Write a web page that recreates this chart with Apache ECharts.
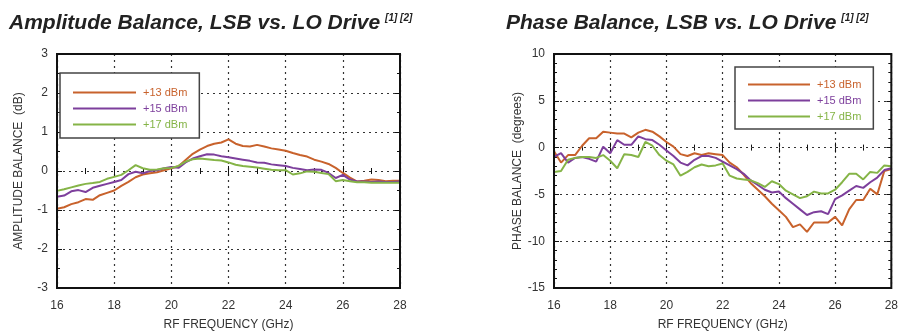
<!DOCTYPE html>
<html>
<head>
<meta charset="utf-8">
<script src="https://cdn.jsdelivr.net/npm/echarts@6/dist/echarts.min.js"></script>
<style>
html,body{margin:0;padding:0;background:#fff;}
#c{width:901px;height:336px;}
</style>
</head>
<body>
<div id="c"></div>
<script>
// Frequency (GHz)
const freq = [16,16.25,16.5,16.75,17,17.25,17.5,17.75,18,18.25,18.5,18.75,19,19.25,19.5,19.75,20,20.25,20.5,20.75,21,21.25,21.5,21.75,22,22.25,22.5,22.75,23,23.25,23.5,23.75,24,24.25,24.5,24.75,25,25.25,25.5,25.75,26,26.25,26.5,26.75,27,27.25,27.5,27.75,28];

// Amplitude balance (dB)
const amp13 = [-0.97,-0.93,-0.85,-0.80,-0.72,-0.74,-0.62,-0.56,-0.50,-0.38,-0.28,-0.16,-0.09,-0.06,-0.03,0.02,0.07,0.12,0.28,0.44,0.55,0.64,0.70,0.73,0.81,0.70,0.64,0.63,0.67,0.63,0.58,0.55,0.52,0.46,0.41,0.37,0.29,0.24,0.18,0.08,-0.05,-0.17,-0.27,-0.25,-0.22,-0.23,-0.26,-0.25,-0.25];
const amp15 = [-0.66,-0.63,-0.52,-0.49,-0.54,-0.43,-0.38,-0.33,-0.28,-0.23,-0.08,-0.02,-0.06,0.00,0.02,0.07,0.10,0.08,0.22,0.32,0.38,0.43,0.42,0.38,0.35,0.32,0.29,0.26,0.22,0.21,0.17,0.15,0.13,0.08,0.05,0.02,0.04,0.03,-0.05,-0.18,-0.10,-0.22,-0.27,-0.27,-0.28,-0.27,-0.28,-0.28,-0.27];
const amp17 = [-0.51,-0.47,-0.42,-0.37,-0.33,-0.31,-0.28,-0.20,-0.15,-0.10,0.02,0.15,0.07,0.03,0.04,0.07,0.08,0.13,0.24,0.30,0.32,0.30,0.28,0.27,0.22,0.16,0.13,0.11,0.09,0.06,0.03,0.02,0.02,-0.09,-0.06,-0.01,-0.02,-0.05,-0.08,-0.26,-0.23,-0.26,-0.29,-0.29,-0.30,-0.30,-0.30,-0.30,-0.30];

// Phase balance (degrees)
const ph13 = [-0.4,-1.6,-0.8,-0.8,0.2,1.0,1.0,1.7,1.6,1.5,1.5,1.1,1.6,1.9,1.7,1.2,0.6,0.1,-0.7,-0.9,-0.6,-0.8,-0.6,-0.7,-0.8,-1.6,-2.1,-2.9,-3.8,-4.5,-5.2,-6.0,-6.7,-7.4,-8.5,-8.2,-9.0,-8.0,-8.0,-8.0,-7.4,-8.3,-6.6,-5.6,-5.6,-4.4,-5.0,-2.5,-2.3];
const ph15 = [-1.0,-0.6,-1.6,-1.1,-1.0,-1.2,-1.5,0.1,-0.6,0.8,0.3,0.3,1.2,0.9,0.8,0.3,-0.3,-0.9,-1.6,-1.9,-1.3,-0.9,-0.9,-1.1,-1.5,-1.9,-2.3,-2.8,-3.5,-4.0,-4.5,-4.8,-4.7,-5.4,-6.0,-6.6,-7.2,-6.9,-6.8,-7.1,-5.5,-5.1,-4.6,-4.1,-4.3,-3.7,-3.2,-2.4,-2.2];
const ph17 = [-2.6,-2.5,-1.3,-1.1,-1.0,-1.0,-1.1,-0.8,-1.4,-2.2,-0.7,-0.8,-1.0,0.6,0.2,-0.8,-1.4,-1.8,-3.0,-2.6,-2.1,-1.8,-2.0,-1.9,-1.7,-3.0,-3.3,-3.4,-3.5,-3.8,-4.2,-3.6,-3.9,-4.6,-5.0,-5.4,-5.2,-4.7,-4.9,-4.9,-4.5,-3.7,-2.8,-2.8,-3.4,-2.6,-2.7,-1.9,-2.0];

const seriesNames = ['+13 dBm','+15 dBm','+17 dBm'];
const colors = ['#c8622c','#7d3f9c','#85b447'];

const FONT = "'Liberation Sans', Arial, Helvetica, sans-serif";
const pair = arr => freq.map((f,i)=>[f, arr[i]]);

function xAx(grid, pos, show) {
  return {
    type:'value', gridIndex:grid, position:pos, min:16, max:28, interval:2,
    axisLine:{show:false},
    axisTick:{show:true, inside:true, length:5, lineStyle:{color:'#111', width:1}},
    minorTick:{show:true, splitNumber:2, length:3, lineStyle:{color:'#111', width:1}},
    axisLabel:{show:show, color:'#333', fontSize:12, fontFamily:FONT, margin:12},
    splitLine:{show:show, lineStyle:{color:'#333', type:[2,4], width:1.2}},
    name: show ? 'RF FREQUENCY (GHz)' : '', nameLocation:'middle', nameGap:31,
    nameTextStyle:{color:'#333', fontSize:12, fontFamily:FONT}
  };
}
function yAx(grid, pos, show, min, max, interval, minorSplit, name, gap) {
  return {
    type:'value', gridIndex:grid, position:pos, min:min, max:max, interval:interval,
    axisLine:{show:false},
    axisTick:{show:true, inside:true, length:5, lineStyle:{color:'#111', width:1}},
    minorTick:{show:true, splitNumber:minorSplit, length:3, lineStyle:{color:'#111', width:1}},
    axisLabel:{show:show, color:'#333', fontSize:12, fontFamily:FONT, margin:9},
    splitLine:{show:show, lineStyle:{color:'#333', type:[2,4], width:1.2}},
    name: show ? name : '', nameLocation:'middle', nameGap:gap,
    nameTextStyle:{color:'#333', fontSize:12, fontFamily:FONT}
  };
}

const ampData = [amp13, amp15, amp17];
const phData = [ph13, ph15, ph17];
const series = [];
ampData.forEach((d,i)=>series.push({
  name:seriesNames[i], type:'line', xAxisIndex:0, yAxisIndex:0, data:pair(d),
  symbol:'none', color:colors[i], lineStyle:{width:2, color:colors[i]}, z:3
}));
phData.forEach((d,i)=>series.push({
  name:seriesNames[i], type:'line', xAxisIndex:2, yAxisIndex:2, data:pair(d),
  symbol:'none', color:colors[i], lineStyle:{width:2, color:colors[i]}, z:3
}));

function legend(left, top, pad, w) {
  return {
    left:left, top:top, orient:'vertical', icon:'rect',
    data: seriesNames.map((n,i)=>({name:n, textStyle:{color:colors[i]}})),
    itemWidth:w, itemHeight:2, itemGap:5,
    padding:pad, borderColor:'#444', borderWidth:1.5,
    backgroundColor:'#fff', selectedMode:false,
    textStyle:{fontSize:11, fontFamily:FONT, padding:[0,0,0,2]}
  };
}

const titleRich = {
  t:{fontSize:21, fontWeight:'bold', fontStyle:'italic', color:'#222', fontFamily:FONT},
  s:{fontSize:10, fontStyle:'italic', color:'#222', fontFamily:FONT, verticalAlign:'top', padding:[0,0,9,0]}
};

const chart = echarts.init(document.getElementById('c'), null, {renderer:'canvas'});
chart.setOption({
  animation:false,
  backgroundColor:'#fff',
  title:[
    {text:'{t|Amplitude Balance, LSB vs. LO Drive} {s|[1] [2]}', left:4, top:8, textStyle:{rich:titleRich}},
    {text:'{t|Phase Balance, LSB vs. LO Drive} {s|[1] [2]}', left:501, top:8, textStyle:{rich:titleRich}}
  ],
  grid:[
    {left:57, right:501, top:54, bottom:48, show:true, borderColor:'#111', borderWidth:2, backgroundColor:'transparent', z:4},
    {left:554, right:4, top:54, bottom:48, show:true, borderColor:'#111', borderWidth:2, backgroundColor:'transparent', z:4}
  ],
  xAxis:[ xAx(0,'bottom',true), xAx(0,'top',false), xAx(1,'bottom',true), xAx(1,'top',false) ],
  yAxis:[
    yAx(0,'left',true,-3,3,1,2,'AMPLITUDE BALANCE  (dB)',32),
    yAx(0,'right',false,-3,3,1,2,'',0),
    yAx(1,'left',true,-15,10,5,5,'PHASE BALANCE  (degrees)',30),
    yAx(1,'right',false,-15,10,5,5,'',0)
  ],
  legend:[ legend(60,73,[14,12,8,13],63), legend(735,67,[12,12,7,13],62) ],
  series:series
});
</script>
</body>
</html>
